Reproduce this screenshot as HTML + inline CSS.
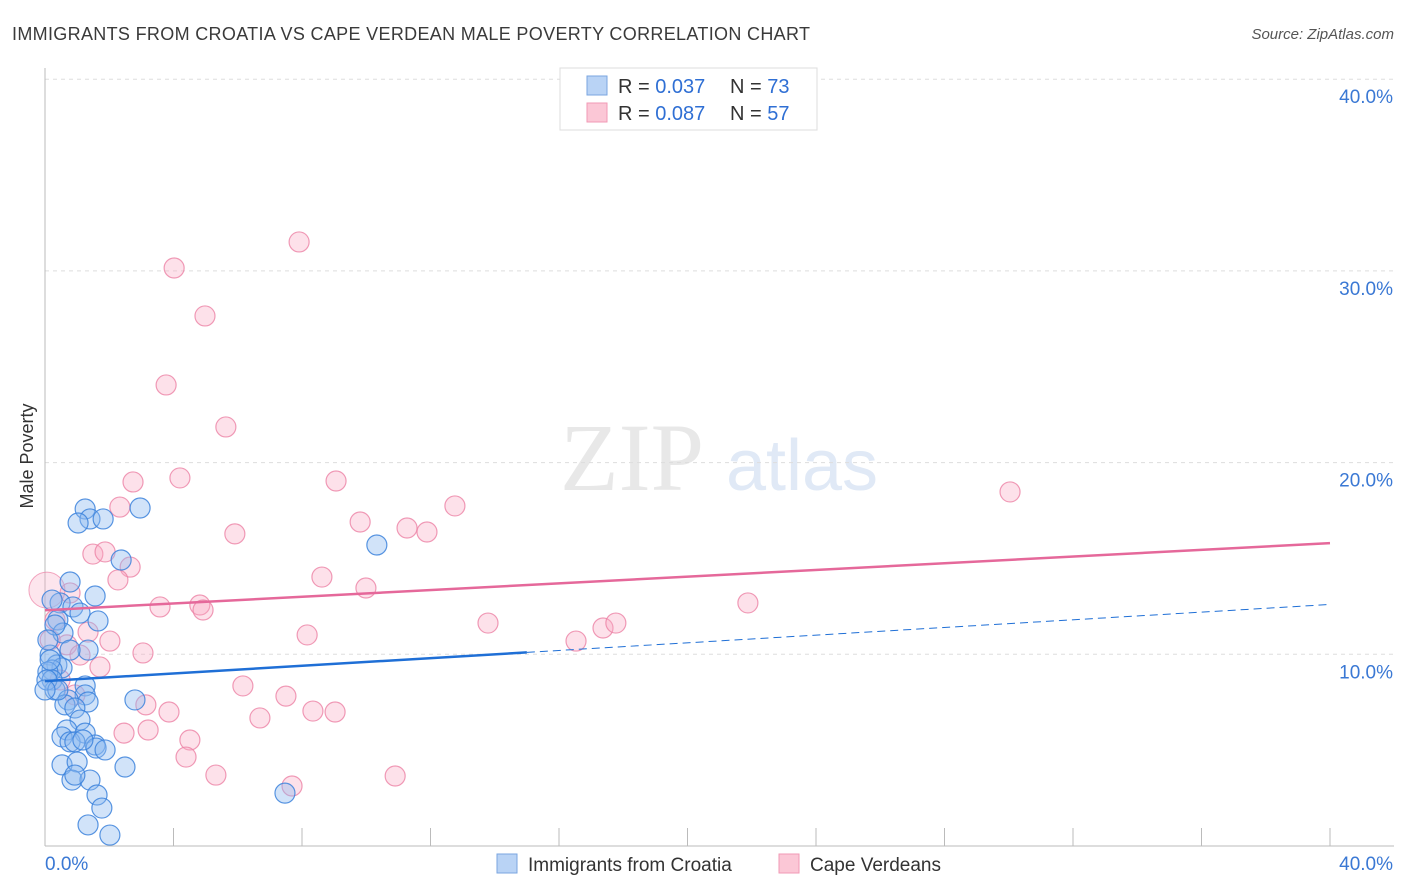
<!DOCTYPE html>
<html><head><meta charset="utf-8"><style>
body{margin:0;background:#fff;font-family:"Liberation Sans",sans-serif}
svg{display:block}
</style></head><body>
<svg width="1406" height="892">
<text x="12" y="40" font-size="18" fill="#3a3a3a" textLength="798">IMMIGRANTS FROM CROATIA VS CAPE VERDEAN MALE POVERTY CORRELATION CHART</text>
<text x="1394" y="39" font-size="15" fill="#555" font-style="italic" text-anchor="end">Source: ZipAtlas.com</text>
<text x="33" y="456" font-size="18" fill="#333" transform="rotate(-90 33 456)" text-anchor="middle">Male Poverty</text>
<text x="632" y="490" font-size="96" fill="#e8e8e8" font-family="Liberation Serif" text-anchor="middle">ZIP</text>
<text x="802" y="490" font-size="72" fill="#e0e9f6" text-anchor="middle">atlas</text>
<g id="grid"></g>
<g id="axes"></g>
<g id="pts"></g>
<g id="trend"></g>
<g>
<rect x="560" y="68" width="257" height="62" fill="#fff" stroke="#ddd"/>
<rect x="587" y="76" width="20" height="19" fill="#b9d3f5" stroke="#7aa6e0"/>
<rect x="587" y="103" width="20" height="19" fill="#fbc7d6" stroke="#f29ab5"/>
<text x="618" y="93" font-size="20" fill="#333">R = <tspan fill="#2f6fd4">0.037</tspan></text>
<text x="730" y="93" font-size="20" fill="#333">N = <tspan fill="#2f6fd4">73</tspan></text>
<text x="618" y="120" font-size="20" fill="#333">R = <tspan fill="#2f6fd4">0.087</tspan></text>
<text x="730" y="120" font-size="20" fill="#333">N = <tspan fill="#2f6fd4">57</tspan></text>
</g>
<g>
<rect x="497" y="854" width="20" height="19" fill="#b9d3f5" stroke="#7aa6e0"/>
<text x="528" y="871" font-size="19" fill="#333">Immigrants from Croatia</text>
<rect x="779" y="854" width="20" height="19" fill="#fbc7d6" stroke="#f29ab5"/>
<text x="810" y="871" font-size="19" fill="#333">Cape Verdeans</text>
</g>
</svg>
<script>
const blueX=[1.25,1.40,1.03,1.81,2.96,10.33,2.37,0.78,1.56,0.47,0.87,1.09,1.65,0.40,0.56,1.34,0.16,0.37,0.53,0.22,0.09,0.22,0.31,1.25,1.25,1.34,0.72,0.62,0.93,1.09,2.80,0.68,1.25,0.53,0.78,0.93,1.56,1.59,1.87,0.53,1.00,2.49,0.84,1.40,1.62,1.77,1.34,2.02,7.47,0.06,0.16,0.31,1.18,0.93,0.40,0.78,0.0,0.09,0.22];
const blueY=[17.58,17.06,16.85,17.06,17.63,15.70,14.92,13.77,13.04,12.68,12.47,12.15,11.74,11.79,11.11,10.22,9.96,9.44,9.29,9.18,9.08,8.66,8.14,8.35,7.88,7.51,7.62,7.36,7.20,6.57,7.62,6.05,5.89,5.69,5.43,5.43,5.27,5.11,5.01,4.23,4.38,4.12,3.44,3.44,2.66,1.98,1.10,0.57,2.76,8.66,9.70,11.53,5.53,3.70,8.14,10.22,8.14,10.75,12.83];
const pinkX=[7.91,4.02,4.98,3.77,5.63,4.20,9.06,2.74,2.33,12.76,30.04,9.81,5.91,11.27,11.89,1.49,1.87,2.65,2.27,8.62,9.99,3.58,4.82,4.92,0.78,13.79,17.37,17.77,16.53,21.88,8.16,2.02,1.34,3.05,0.68,1.09,1.71,6.16,7.50,3.14,3.86,6.69,8.34,9.03,2.46,3.21,4.51,4.39,5.32,7.69,10.90,0.16,0.47,0.93,0.31];
const pinkY=[31.51,30.15,27.65,24.05,21.86,19.20,19.04,18.99,17.68,17.74,18.47,16.90,16.28,16.59,16.38,15.23,15.34,14.55,13.88,14.03,13.46,12.47,12.57,12.31,13.20,11.63,11.37,11.63,10.69,12.68,11.01,10.69,11.16,10.07,10.49,9.96,9.34,8.35,7.82,7.36,6.99,6.68,7.04,6.99,5.89,6.05,5.53,4.64,3.70,3.13,3.65,10.75,8.66,7.88,11.79];
const yTicks=[10,20,30,40];
const yTickLabels=["10.0%","20.0%","30.0%","40.0%"];
const blueTrend=[0,8.6,15,10.1,40,12.6];
const pinkTrend=[0,12.3,40,15.8];
const NS="http://www.w3.org/2000/svg";
const X=v=>45+v*32.125, Y=v=>846-v*19.17;
function mk(t,a,p){const e=document.createElementNS(NS,t);for(const k in a)e.setAttribute(k,a[k]);p.appendChild(e);return e;}
const grid=document.getElementById('grid'),axes=document.getElementById('axes'),pts=document.getElementById('pts'),tr=document.getElementById('trend');
yTicks.forEach((t,i)=>{
 const l=mk('line',{x1:45,x2:1394,y1:Y(t),y2:Y(t),stroke:'#ddd','stroke-dasharray':'4,4'},grid);
 
 
 const tx=mk('text',{x:1393,y:Y(t)+24,'font-size':19,fill:'#3a78d4','text-anchor':'end'},axes);
 tx.textContent=yTickLabels[i];
 
 
});
let a=mk('line',{x1:45,x2:45,y1:68,y2:846,stroke:'#bbb'},axes);


a=mk('line',{x1:45,x2:1394,y1:846,y2:846,stroke:'#bbb'},axes);


for(let i=0;i<=10;i++){const t=mk('line',{x1:X(i*4),x2:X(i*4),y1:828,y2:846,stroke:'#bbb'},axes);
 
 }
let t1=mk('text',{x:45,y:870,'font-size':19,fill:'#3a78d4'},axes);t1.textContent='0.0%';


t1=mk('text',{x:1393,y:870,'font-size':19,fill:'#3a78d4','text-anchor':'end'},axes);t1.textContent='40.0%';


pinkX.forEach((x,i)=>{const c=mk('circle',{cx:X(x),cy:Y(pinkY[i]),r:10,fill:'rgba(248,170,195,0.35)',stroke:'rgba(236,130,165,0.8)','stroke-width':1.2},pts);
 
 });
let big=mk('circle',{cx:X(0.06),cy:Y(13.35),r:18,fill:'rgba(248,170,195,0.3)',stroke:'rgba(236,130,165,0.7)'},pts);


blueX.forEach((x,i)=>{const c=mk('circle',{cx:X(x),cy:Y(blueY[i]),r:10,fill:'rgba(140,185,240,0.4)',stroke:'rgba(60,130,220,0.85)','stroke-width':1.2},pts);
 
 });
let l=mk('line',{x1:X(blueTrend[0]),y1:Y(blueTrend[1]),x2:X(blueTrend[2]),y2:Y(blueTrend[3]),stroke:'#1f6fd6','stroke-width':2.5},tr);


l=mk('line',{x1:X(blueTrend[2]),y1:Y(blueTrend[3]),x2:X(blueTrend[4]),y2:Y(blueTrend[5]),stroke:'#1f6fd6','stroke-width':1,'stroke-dasharray':'8,5'},tr);


l=mk('line',{x1:X(pinkTrend[0]),y1:Y(pinkTrend[1]),x2:X(pinkTrend[2]),y2:Y(pinkTrend[3]),stroke:'#e5689a','stroke-width':2.5},tr);


</script>
</body></html>
